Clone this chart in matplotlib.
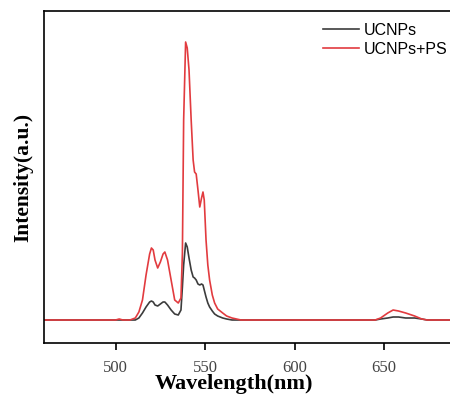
import matplotlib
matplotlib.use('Agg')
import matplotlib.pyplot as plt

# wavelength (nm) and intensity (a.u.)
wavelength = [460, 500, 502, 504, 508, 511, 513, 515, 517, 519,
              520, 521, 522, 523.5, 525, 526.5, 527.5, 529, 531, 533,
              535, 536.5, 537.3, 538, 539.1, 540, 541, 542.2, 543.3, 544.1,
              545, 546, 547, 548, 548.8, 549.5, 550.5, 551.5, 552.5, 554,
              555.3, 557, 559.8, 562, 565, 570, 645, 648, 652, 655,
              658, 662, 667, 671, 674, 687]
ucnps = [0, 0, 0, 0, 0, 0, 2, 7, 13, 18,
         19, 18, 15, 14, 16, 18, 18, 15, 10, 6,
         5, 10, 33, 55, 77, 73, 62, 50, 43, 42,
         40, 36, 35, 36, 35, 30, 23, 17, 13, 9,
         6, 4, 2, 1, 0, 0, 0, 1, 2, 3,
         3, 2, 2, 1, 0, 0]
ucnps_ps = [0, 0, 1, 0, 0, 2, 8, 20, 45, 66,
            72, 70, 60, 52, 58, 66, 68, 60, 40, 20,
            17, 22, 67, 200, 278, 272, 250, 200, 160, 148,
            146, 130, 113, 122, 128, 120, 80, 55, 40, 25,
            17, 11, 7, 4, 2, 0, 0, 2, 7, 10,
            9, 7, 4, 1, 0, 0]
xticks = [500, 550, 600, 650]

fig = plt.figure(figsize=(4.5, 3.94), dpi=100)
ax = fig.add_axes([44 / 450, 51 / 394, 410 / 450, 332 / 394])

ax.plot(wavelength, ucnps, color='#3c3c3c', linewidth=1.2, label='UCNPs')
ax.plot(wavelength, ucnps_ps, color='#e23b3f', linewidth=1.2, label='UCNPs+PS')

ax.set_xlim(460, 689)
ax.set_ylim(-23, 309)
ax.set_xticks(xticks)
ax.set_yticks([])
ax.tick_params(axis='x', direction='out', length=5, width=1.2, pad=7)
for lab in ax.get_xticklabels():
    lab.set_fontfamily('Liberation Serif')
    lab.set_fontsize(12)
    lab.set_color('#444444')
for s in ax.spines.values():
    s.set_linewidth(1.2)
ax.spines['right'].set_visible(False)

ax.set_xlabel('Wavelength(nm)', family='Liberation Serif', fontweight='bold',
              fontsize=16)
ax.xaxis.set_label_coords(0.463, -0.094)
ax.set_ylabel('Intensity(a.u.)', family='Liberation Serif', fontweight='bold',
              fontsize=15.5, labelpad=8)

leg = ax.legend(loc='upper right', bbox_to_anchor=(1.02, 1.008), frameon=False,
                prop={'family': 'Liberation Sans', 'size': 11.5},
                handlelength=2.3, handletextpad=0.3, labelspacing=0.25)

plt.savefig('out.png', dpi=100)
plt.close()
